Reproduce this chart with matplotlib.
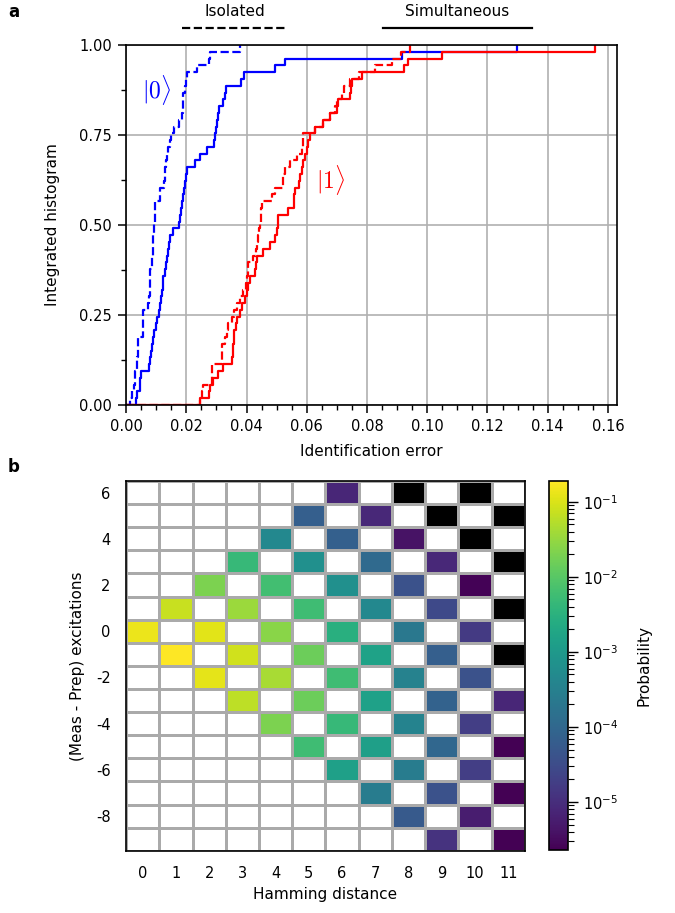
import numpy as np
import matplotlib
matplotlib.use("Agg")
import matplotlib.pyplot as plt
from matplotlib.colors import LogNorm
from matplotlib.lines import Line2D
from matplotlib.ticker import MultipleLocator

# ---- panel a: identification error per qubit (sorted) ----
err0_isolated = [0.0013, 0.002, 0.0025, 0.003, 0.003, 0.0035, 0.0037, 0.004, 0.004, 0.004,
                 0.0055, 0.0056, 0.0057, 0.0058, 0.0074, 0.0076, 0.0078, 0.008, 0.008, 0.0081,
                 0.0085, 0.0087, 0.0088, 0.009, 0.009, 0.0092, 0.0094, 0.0095, 0.0096, 0.0096,
                 0.0113, 0.0114, 0.0126, 0.0128, 0.013, 0.0133, 0.0136, 0.014, 0.0145, 0.015,
                 0.016, 0.0176, 0.0186, 0.0188, 0.0189, 0.019, 0.0195, 0.0198, 0.0201, 0.0234,
                 0.0275, 0.028, 0.0378]
err0_simult = [0.0033, 0.0035, 0.0045, 0.0048, 0.0049, 0.0077, 0.008, 0.0083, 0.0087, 0.009,
               0.0094, 0.0098, 0.0104, 0.0108, 0.0112, 0.0116, 0.012, 0.0122, 0.0124, 0.0128,
               0.0132, 0.0137, 0.014, 0.0144, 0.0147, 0.0155, 0.0176, 0.018, 0.0183, 0.0186,
               0.019, 0.0194, 0.0197, 0.02, 0.0202, 0.0228, 0.0245, 0.0268, 0.0292, 0.0295,
               0.0299, 0.0302, 0.0306, 0.0309, 0.0322, 0.0328, 0.0331, 0.0383, 0.0392, 0.0495,
               0.0528, 0.0915, 0.1297]
err1_isolated = [0.0245, 0.0252, 0.0257, 0.0284, 0.0284, 0.0286, 0.0318, 0.0318, 0.032, 0.033,
                 0.0335, 0.034, 0.0351, 0.036, 0.037, 0.0378, 0.039, 0.0398, 0.0402, 0.0405,
                 0.0405, 0.042, 0.043, 0.0435, 0.0439, 0.0442, 0.0445, 0.0447, 0.0449, 0.045,
                 0.0484, 0.0495, 0.052, 0.0522, 0.0528, 0.0544, 0.0567, 0.0583, 0.0587, 0.0589,
                 0.0628, 0.0655, 0.0678, 0.0695, 0.07, 0.0717, 0.0722, 0.0744, 0.0775, 0.0827,
                 0.0883, 0.0913, 0.0943]
err1_simult = [0.0245, 0.0276, 0.028, 0.029, 0.0305, 0.0322, 0.0352, 0.0354, 0.0356, 0.0358,
               0.036, 0.0365, 0.037, 0.0378, 0.0385, 0.0395, 0.04, 0.0406, 0.041, 0.0428,
               0.0432, 0.0434, 0.0456, 0.0478, 0.0495, 0.05, 0.0503, 0.0506, 0.0539, 0.0556,
               0.0558, 0.0561, 0.0575, 0.0578, 0.0585, 0.0589, 0.0594, 0.06, 0.0605, 0.061,
               0.0628, 0.0655, 0.0678, 0.07, 0.0705, 0.0744, 0.0748, 0.075, 0.0783, 0.0923,
               0.0937, 0.105, 0.1557]

# ---- panel b: probability vs Hamming distance / excitation change ----
hamming = list(range(12))
excitations = list(range(6, -10, -1))
n = np.nan
BELOW = 1e-6  # shown black (below colour range)
prob = [
    [n, n, n, n, n, n, 7.6e-6, n, BELOW, n, BELOW, n],
    [n, n, n, n, n, 6.8e-5, n, 8e-6, n, BELOW, n, BELOW],
    [n, n, n, n, 4.6e-4, n, 7e-5, n, 4e-6, n, BELOW, n],
    [n, n, n, 4.5e-3, n, 6.5e-4, n, 1.1e-4, n, 8e-6, n, BELOW],
    [n, n, 2e-2, n, 6.3e-3, n, 6.5e-4, n, 3.9e-5, n, 2.5e-6, n],
    [n, 7.5e-2, n, 3.4e-2, n, 5.7e-3, n, 4.6e-4, n, 2.8e-5, n, BELOW],
    [0.135, n, 0.115, n, 2.5e-2, n, 2.9e-3, n, 2.1e-4, n, 1.6e-5, n],
    [n, 0.189, n, 8.5e-2, n, 1.5e-2, n, 1.6e-3, n, 6.8e-5, n, BELOW],
    [n, n, 0.12, n, 4.3e-2, n, 5.7e-3, n, 3.3e-4, n, 3.9e-5, n],
    [n, n, n, 6.1e-2, n, 1.5e-2, n, 1.45e-3, n, 7.6e-5, n, 7.6e-6],
    [n, n, n, n, 2e-2, n, 4.5e-3, n, 3.7e-4, n, 1.8e-5, n],
    [n, n, n, n, n, 5.7e-3, n, 1.3e-3, n, 9.5e-5, n, 2.4e-6],
    [n, n, n, n, n, n, 1.4e-3, n, 2.6e-4, n, 1.8e-5, n],
    [n, n, n, n, n, n, n, 2.6e-4, n, 3.9e-5, n, 2.4e-6],
    [n, n, n, n, n, n, n, n, 5.5e-5, n, 5.6e-6, n],
    [n, n, n, n, n, n, n, n, n, 1.2e-5, n, 2.4e-6],
]
ytick_vals = [6, 4, 2, 0, -2, -4, -6, -8]

fig = plt.figure(figsize=(6.75, 9.13), dpi=100)

# ================= panel a =================
ax = fig.add_axes([0.1867, 0.5564, 0.7274, 0.3943])


def ecdf(vals):
    v = np.sort(np.asarray(vals))
    x = np.r_[0.0, v]
    y = np.arange(len(v) + 1) / len(v)
    return x, y


for vals, col, ls in [(err0_isolated, "blue", "--"), (err0_simult, "blue", "-"),
                      (err1_isolated, "red", "--"), (err1_simult, "red", "-")]:
    x, y = ecdf(vals)
    ax.step(x, y, where="post", color=col, ls=ls, lw=1.6)

ax.set_xlim(0, 0.163)
ax.set_ylim(0, 1)
ax.set_yticks([0, 0.25, 0.5, 0.75, 1.0])
ax.set_yticklabels(["0.00", "0.25", "0.50", "0.75", "1.00"])
ax.set_xticks(np.arange(0, 0.161, 0.02))
ax.set_xticklabels(["0.00", "0.02", "0.04", "0.06", "0.08", "0.10", "0.12", "0.14", "0.16"])
ax.xaxis.set_minor_locator(MultipleLocator(0.005))
ax.yaxis.set_minor_locator(MultipleLocator(0.125))
ax.grid(True, which="major", color="#b0b0b0", lw=1.2)
ax.set_axisbelow(True)
ax.tick_params(which="major", length=6, width=1.1, labelsize=10.5, pad=4)
ax.tick_params(which="minor", length=3.5, width=1.0)
ax.set_xlabel("Identification error", fontsize=11, labelpad=7)
ax.set_ylabel("Integrated histogram", fontsize=11, labelpad=14)
for s in ax.spines.values():
    s.set_linewidth(1.2)

ax.text(0.0103, 0.875, r"$|0\rangle$", color="blue", fontsize=17,
        math_fontfamily="cm", ha="center", va="center")
ax.text(0.068, 0.625, r"$|1\rangle$", color="red", fontsize=17,
        math_fontfamily="cm", ha="center", va="center")

# header "legend"
H = 913.0
W = 675.0
fig.add_artist(Line2D([182 / W, 288 / W], [1 - 28 / H, 1 - 28 / H], color="black", ls="--", lw=1.6))
fig.add_artist(Line2D([383 / W, 532 / W], [1 - 28 / H, 1 - 28 / H], color="black", ls="-", lw=1.6))
fig.text(235 / W, 1 - 12 / H, "Isolated", ha="center", va="center", fontsize=11)
fig.text(457 / W, 1 - 12 / H, "Simultaneous", ha="center", va="center", fontsize=11)

fig.text(8 / W, 1 - 12 / H, "a", fontweight="bold", fontsize=12, va="center")
fig.text(8 / W, 1 - 467 / H, "b", fontweight="bold", fontsize=12, va="center")

# ================= panel b =================
axb = fig.add_axes([0.1867, 0.0682, 0.591, 0.405])
cax = fig.add_axes([0.8133, 0.0692, 0.0281, 0.404])

cmap = plt.get_cmap("viridis").copy()
cmap.set_under("black")
cmap.set_bad("white")
data = np.ma.masked_invalid(np.array(prob))
xe = np.arange(len(hamming) + 1) - 0.5
ye = np.array(excitations[::-1] + [excitations[0] + 1]) - 0.5
mesh = axb.pcolormesh(xe, ye, data[::-1], cmap=cmap,
                      norm=LogNorm(vmin=2.3e-6, vmax=0.19),
                      edgecolors="#aaaaaa", linewidth=1.0)
axb.set_xlim(xe[0], xe[-1])
axb.set_ylim(ye[0], ye[-1])
axb.set_xticks(hamming)
axb.set_yticks(ytick_vals)
axb.set_yticklabels([str(v) for v in ytick_vals])
axb.tick_params(axis="x", length=0, pad=11, labelsize=10.5)
axb.tick_params(axis="y", length=0, pad=11, labelsize=10.5)
axb.set_xlabel("Hamming distance", fontsize=11, labelpad=4)
axb.set_ylabel("(Meas - Prep) excitations", fontsize=11, labelpad=8)
for s in axb.spines.values():
    s.set_linewidth(1.2)

cb = fig.colorbar(mesh, cax=cax)
cb.set_label("Probability", fontsize=11, labelpad=13)
cb.ax.tick_params(which="major", length=7, width=1.0, labelsize=10.5, pad=4)
cb.ax.tick_params(which="minor", length=4, width=0.8)
cb.outline.set_linewidth(1.2)

fig.savefig("out.png", dpi=100)
